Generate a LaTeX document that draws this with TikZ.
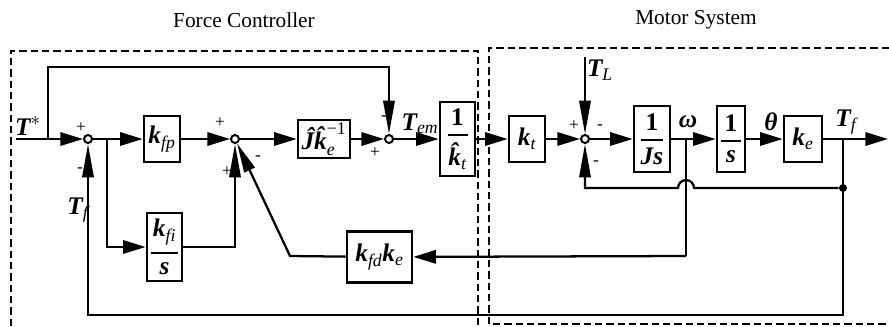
\documentclass[tikz,border=0pt]{standalone}
\usepackage{amsmath}
\usepackage{fontspec}
\setmainfont{Liberation Serif}
\usetikzlibrary{arrows.meta}
\newcommand\bk[1]{{\bfseries\itshape #1}}
\newcommand\ms[2]{\ensuremath{\text{\bk{#1}}_{\text{\itshape #2}}}}
\newcommand\fr[3]{\ensuremath{\genfrac{}{}{1.6pt}{0}{\makebox[#3]{#1}}{#2}}}
\begin{document}
\begin{tikzpicture}[x=0.75pt,y=-0.75pt,
  ln/.style={line width=1.7pt},
  harr/.style={ln,-{Triangle[length=17pt,width=10pt]}},
  varr/.style={ln,-{Triangle[length=25pt,width=8.5pt]}},
  darr/.style={ln,-{Triangle[length=22pt,width=8.5pt]}},
  blk/.style={draw,line width=2pt,inner sep=0pt,font=\fontsize{19}{20}\selectfont,fill=white},
  sumn/.style={circle,draw,line width=1.5pt,fill=white,minimum size=6pt,inner sep=0pt},
  lbl/.style={font=\fontsize{19}{20}\selectfont,inner sep=0pt},
  sg/.style={font=\fontsize{13}{13}\selectfont,inner sep=0pt},
  ttl/.style={font=\fontsize{16}{18}\selectfont},
  frame/.style={line width=1.8pt,dash pattern=on 5.5pt off 3pt},
  dotn/.style={circle,fill,minimum size=6pt,inner sep=0pt}]
\useasboundingbox (0,0) rectangle (889,326);
% frames
\draw[frame] (11,326) -- (11,51) -- (478,51) -- (478,326);
\draw[frame] (889,48) -- (489,48) -- (489,324) -- (889,324);
\node[ttl] (t1) at (244,20) {Force Controller};
\node[ttl] (t2) at (696,20) {Motor System};
% sums
\node[sumn] (s1) at (88,139) {};
\node[sumn] (s3) at (235,139) {};
\node[sumn] (s2) at (389,139) {};
\node[sumn] (s4) at (585,139) {};
% blocks
\node[blk,minimum width=27pt,minimum height=34.5pt] (kfp) at (162,139) {\ms{k}{fp}};
\node[blk,minimum width=26.25pt,minimum height=51pt] (kfi) at (164.5,247) {\fr{\ms{k}{fi}}{\text{\bk{s}}}{20pt}};
\node[blk,minimum width=39pt,minimum height=28.5pt] (Ke) at (324,139) {\ensuremath{\text{\bk{\^{J}\^{k}}}_{\text{\itshape e}}^{\text{−1}}}};
\node[blk,minimum width=26.25pt,minimum height=55.5pt] (kt1) at (457.5,139) {\fr{\textbf{1}}{\ms{\^{k}}{t}}{15pt}};
\node[blk,minimum width=27pt,minimum height=34.5pt] (kt) at (527,139) {\ms{k}{t}};
\node[blk,minimum width=27pt,minimum height=49.5pt] (Js) at (652,139) {\fr{\textbf{1}}{\text{\bk{Js}}}{17pt}};
\node[blk,minimum width=21pt,minimum height=49.5pt] (sb) at (731,139) {\fr{\textbf{1}}{\text{\bk{s}}}{15pt}};
\node[blk,minimum width=28.5pt,minimum height=34.5pt] (ke) at (803,139) {\ms{k}{e}};
\node[blk,minimum width=48.75pt,minimum height=38.25pt] (kfdke) at (379.5,257) {\ensuremath{\text{\bk{k}}_{\text{\itshape fd}}\text{\bk{k}}_{\text{\itshape e}}}};
% labels
\node[lbl] (Tstar) at (28,126) {\ensuremath{\text{\bk{T}}^{*}}};
\node[lbl] (Tfl) at (78,210) {\ms{T}{f}};
\node[lbl] (Tem) at (420,124) {\ms{T}{em}};
\node[lbl] (TL) at (600,70) {\ms{T}{L}};
\node[lbl] (om) at (688,122) {\bk{ω}};
\node[lbl] (th) at (771,122) {\bk{θ}};
\node[lbl] (Tfr) at (846,122) {\ms{T}{f}};
% signs
\node[sg] (p1) at (81,128) {+};
\node[sg] (m1) at (80,170) {-};
\node[sg] (p3) at (220,123) {+};
\node[sg] (m3) at (258,158) {-};
\node[sg] (p3b) at (227,172) {+};
\node[sg] (m2) at (384,118) {-};
\node[sg] (p2) at (375,153) {+};
\node[sg] (p4) at (574,126) {+};
\node[sg] (m4) at (600,127) {-};
\node[sg] (m4b) at (596,163) {-};
% coordinates
\coordinate (in) at (16,139);
\coordinate (b1) at (48,139);
\coordinate (top) at (389,67);
\coordinate (b2) at (107,139);
\coordinate (tl) at (585,57);
\coordinate (w) at (686,139);
\coordinate (wd) at (686,256);
\coordinate (b3) at (843,139);
\coordinate (out) at (888,139);
\coordinate (br) at (843,315);
\coordinate (bl) at (88,315);
\coordinate (bend) at (290,256);
\coordinate (jr) at (694,188);
\coordinate (fb) at (585,188);
% connectors
\draw[ln] (in) -- (b1);
\draw[harr] (b1) -- (s1);
\draw[varr] (b1) |- (top) -- (s2);
\draw[harr] (s1) -- (kfp);
\draw[harr] (b2) |- (kfi);
\draw[varr] (kfi) -| (s3);
\draw[harr] (kfp) -- (s3);
\draw[harr] (s3) -- (Ke);
\draw[harr] (Ke) -- (s2);
\draw[harr] (s2) -- (kt1);
\draw[harr] (kt1) -- (kt);
\draw[harr] (kt) -- (s4);
\draw[varr] (tl) -- (s4);
\draw[harr] (s4) -- (Js);
\draw[harr] (Js) -- (sb);
\draw[harr] (sb) -- (ke);
\draw[harr] (ke) -- (out);
\draw[ln] (w) -- (wd);
\draw[harr] (wd) -- (kfdke);
\draw[darr] (kfdke) -- (bend) -- (s3);
\draw[varr] (b3) -- (br) -- (bl) -- (s1);
\node[dotn] (dot) at (843,188) {};
\draw[varr] (dot) -- (jr) arc[start angle=0,end angle=-180,radius=8] -- (fb) -- (s4);
\end{tikzpicture}
\end{document}
